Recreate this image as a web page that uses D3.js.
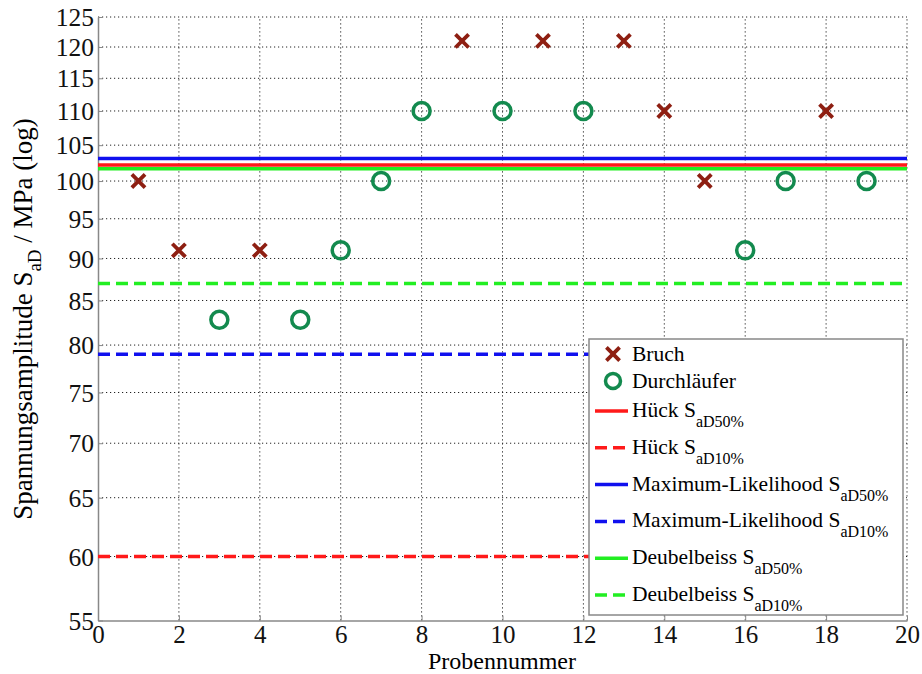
<!DOCTYPE html>
<html>
<head>
<meta charset="utf-8">
<script src="https://cdn.jsdelivr.net/npm/d3@7"></script>
<style>
  body { margin: 0; background: #fff; }
  svg text { font-family: "Liberation Serif", "Times New Roman", Times, "DejaVu Serif", serif !important; }
</style>
</head>
<body>
<div id="chart"></div>
<script>
// Bruch (failure) points
const bruchX = [1, 2, 4, 9, 11, 13, 14, 15, 18];
const bruchY = [100, 91, 91, 121, 121, 121, 110, 100, 110];
// Durchläufer (run-out) points
const durchX = [3, 5, 6, 7, 8, 10, 12, 16, 17, 19];
const durchY = [82.8, 82.8, 91, 100, 110, 110, 110, 91, 100, 100];
// horizontal levels
const levelNames = ["Hück", "Hück", "Maximum-Likelihood", "Maximum-Likelihood", "Deubelbeiss", "Deubelbeiss"];
const levelSubs = ["aD50%", "aD10%", "aD50%", "aD10%", "aD50%", "aD10%"];
const levelValues = [102.2, 60, 103.1, 79, 101.7, 87];
const levelColors = ["#ff1a1a", "#ff1a1a", "#1010ee", "#1010ee", "#22ee22", "#22ee22"];
const levelDashed = [false, true, false, true, false, true];
const yTicks = [55, 60, 65, 70, 75, 80, 85, 90, 95, 100, 105, 110, 115, 120, 125];
const xTicks = [0, 2, 4, 6, 8, 10, 12, 14, 16, 18, 20];

const W = 922, H = 674;
const svg = d3.select("#chart").append("svg").attr("width", W).attr("height", H);

const x = d3.scaleLinear().domain([0, 20]).range([98, 907]);
const y = d3.scaleLog().domain([55, 125]).range([620.5, 17]);

// grid
const grid = svg.append("g").attr("stroke", "#222").attr("stroke-width", 1).attr("stroke-dasharray", "1.2,2.8");
grid.selectAll(".gy").data(yTicks.slice(1)).enter().append("line")
  .attr("x1", x(0)).attr("x2", x(20)).attr("y1", d => y(d)).attr("y2", d => y(d));
grid.selectAll(".gx").data(xTicks.slice(1)).enter().append("line")
  .attr("y1", y(55)).attr("y2", y(125)).attr("x1", d => x(d)).attr("x2", d => x(d));

// axes
const xAxis = d3.axisBottom(x).tickValues(xTicks).tickSizeInner(-5).tickSizeOuter(0).tickPadding(4.5);
const yAxis = d3.axisLeft(y).tickValues(yTicks).tickFormat(d3.format("d")).tickSizeInner(-5).tickSizeOuter(0).tickPadding(4);
const gx = svg.append("g").attr("transform", `translate(0,${y(55)})`).call(xAxis);
const gy = svg.append("g").attr("transform", `translate(${x(0)},0)`).call(yAxis);
[gx, gy].forEach(g => {
  g.attr("font-family", null);
  g.select(".domain").attr("stroke", "#888").attr("stroke-width", 1.5);
  g.selectAll(".tick line").attr("stroke", "#888");
  g.selectAll("text").attr("fill", "#111").attr("font-size", 25.5);
});
gx.selectAll("text").attr("font-size", 25).attr("dy", "0.71em");
gy.selectAll("text").attr("dy", "0.34em");

// level lines
const levels = levelValues.map((v, i) => ({ v, i }));
svg.append("g").selectAll("line").data(levels).enter().append("line")
  .attr("x1", x(0)).attr("x2", x(20))
  .attr("y1", d => y(d.v)).attr("y2", d => y(d.v))
  .attr("stroke", d => levelColors[d.i]).attr("stroke-width", 3.5)
  .attr("stroke-dasharray", d => levelDashed[d.i] ? "12,6" : null);

// markers
const bruch = bruchX.map((v, i) => ({ x: v, y: bruchY[i] }));
const durch = durchX.map((v, i) => ({ x: v, y: durchY[i] }));
const cross = d3.symbol().type(d3.symbolTimes).size(115);
svg.append("g").selectAll("path").data(bruch).enter().append("path")
  .attr("d", cross).attr("transform", d => `translate(${x(d.x)},${y(d.y)})`)
  .attr("fill", "none").attr("stroke", "#8e1f12").attr("stroke-width", 3.8);
svg.append("g").selectAll("circle").data(durch).enter().append("circle")
  .attr("cx", d => x(d.x)).attr("cy", d => y(d.y)).attr("r", 8.5)
  .attr("fill", "none").attr("stroke", "#138a4e").attr("stroke-width", 3.5);

// legend
const lg = svg.append("g");
lg.append("rect").attr("x", 589).attr("y", 339).attr("width", 314).attr("height", 276)
  .attr("fill", "#fff").attr("stroke", "#888").attr("stroke-width", 1.5);
lg.append("path").attr("d", cross).attr("transform", "translate(613,354)")
  .attr("fill", "none").attr("stroke", "#8e1f12").attr("stroke-width", 3.8);
lg.append("text").attr("x", 632).attr("y", 361).attr("font-size", 21.5).text("Bruch");
lg.append("circle").attr("cx", 613).attr("cy", 381).attr("r", 7.5)
  .attr("fill", "none").attr("stroke", "#138a4e").attr("stroke-width", 3.5);
lg.append("text").attr("x", 632).attr("y", 388).attr("font-size", 21.5).text("Durchläufer");
const rows = lg.selectAll(".row").data(levels).enter().append("g")
  .attr("transform", d => `translate(0,${411 + d.i * 36.8})`);
rows.append("line").attr("x1", 595).attr("x2", 628).attr("y1", 0).attr("y2", 0)
  .attr("stroke", d => levelColors[d.i]).attr("stroke-width", 3.5)
  .attr("stroke-dasharray", d => levelDashed[d.i] ? "12,6" : null);
const rt = rows.append("text").attr("x", 632).attr("y", 6).attr("font-size", 21.5);
rt.append("tspan").text(d => levelNames[d.i] + " S");
rt.append("tspan").attr("dy", 10).attr("font-size", 16).text(d => levelSubs[d.i]);

// axis labels
svg.append("text").attr("x", 502).attr("y", 668.5).attr("text-anchor", "middle")
  .attr("font-size", 24).text("Probennummer");
const yl = svg.append("text").attr("transform", "translate(32,319) rotate(-90)")
  .attr("text-anchor", "middle").attr("font-size", 27);
yl.append("tspan").text("Spannungsamplitude S");
yl.append("tspan").attr("dy", 9).attr("font-size", 19).text("aD");
yl.append("tspan").attr("dy", -9).text(" / MPa (log)");
</script>
</body>
</html>
